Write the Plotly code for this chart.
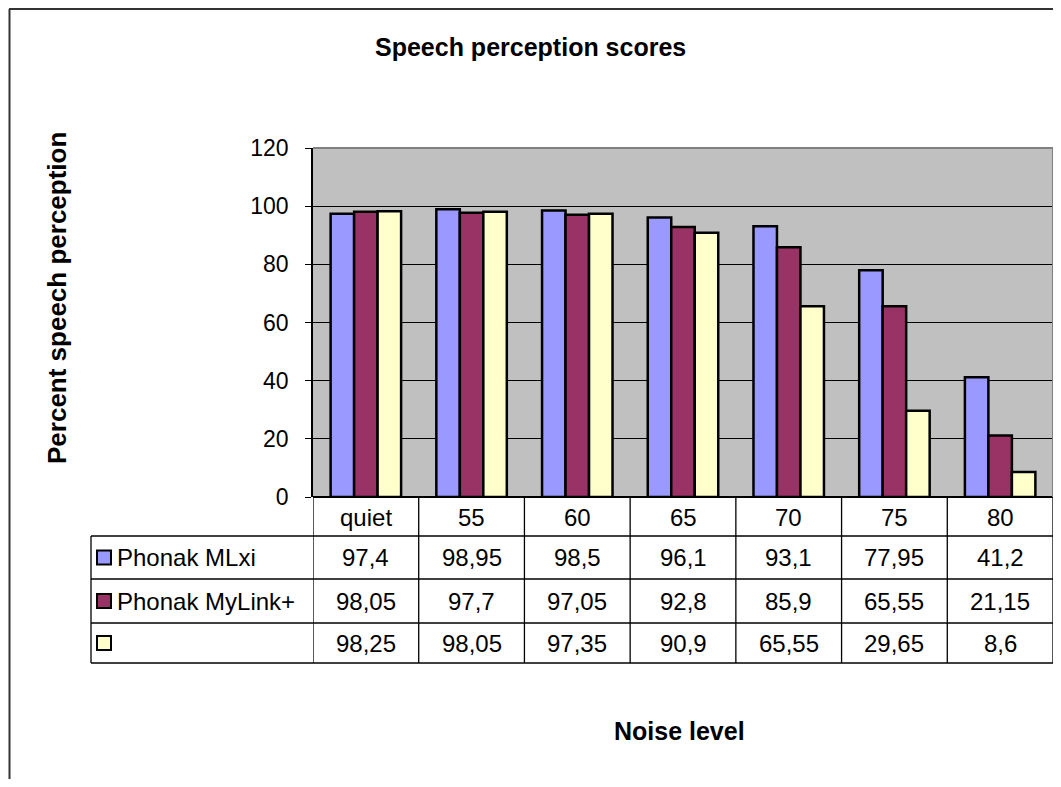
import plotly.graph_objects as go

categories = ["quiet", "55", "60", "65", "70", "75", "80"]
series_names = ["Phonak MLxi", "Phonak MyLink+", ""]
mlxi = [97.4, 98.95, 98.5, 96.1, 93.1, 77.95, 41.2]
mylink = [98.05, 97.7, 97.05, 92.8, 85.9, 65.55, 21.15]
third = [98.25, 98.05, 97.35, 90.9, 65.55, 29.65, 8.6]
colors = ["#9999FF", "#993366", "#FFFFCC"]
y_ticks = [0, 20, 40, 60, 80, 100, 120]

# page body has an 8px margin; work in screen coordinates and convert
OFF = 8
W, H = 1045, 771
PLOT_L, PLOT_T, PLOT_R, PLOT_B = 313, 148, 1053, 497  # screen px
L = PLOT_L - OFF
T = PLOT_T - OFF
R = W - (PLOT_R - OFF)
B = H - (PLOT_B - OFF)
PW = W - L - R
PH = H - T - B
FONT = "Liberation Sans, Arial, sans-serif"


def px(sx):
    return (sx - OFF - L) / PW


def py(sy):
    return (H - B - (sy - OFF)) / PH


series = [mlxi, mylink, third]
xs = list(range(len(categories)))

fig = go.Figure()
for name, vals, col in zip(series_names, series, colors):
    fig.add_trace(go.Bar(
        x=xs, y=vals, name=name,
        marker=dict(color=col, line=dict(color="black", width=2.5)),
        showlegend=False,
    ))

shapes = []
annotations = []

line_k = dict(color="black", width=1.3)

row_lines = [536, 579, 623, 663]
row_centers = [517, 557.5, 601, 643]
left_px = 91

for yl in row_lines:
    shapes.append(dict(type="line", xref="paper", yref="paper",
                       x0=px(left_px), x1=1, y0=py(yl), y1=py(yl), line=line_k))
shapes.append(dict(type="line", xref="paper", yref="paper",
                   x0=px(left_px), x1=px(left_px), y0=py(row_lines[0]), y1=py(row_lines[-1]), line=line_k))
for k in range(len(categories) + 1):
    shapes.append(dict(type="line", xref="x", yref="paper",
                       x0=k - 0.5, x1=k - 0.5, y0=0, y1=py(row_lines[-1]), line=line_k))

tfont = dict(family=FONT, size=24, color="black")

for i, c in enumerate(categories):
    annotations.append(dict(x=i, y=py(row_centers[0]), xref="x", yref="paper",
                            xanchor="center", yanchor="middle",
                            text=c, showarrow=False, font=tfont))

for r, (name, vals, col) in enumerate(zip(series_names, series, colors)):
    yc = row_centers[r + 1]
    for i, v in enumerate(vals):
        annotations.append(dict(x=i, y=py(yc), xref="x", yref="paper",
                                xanchor="center", yanchor="middle",
                                text=str(v).replace(".", ","), showarrow=False, font=tfont))
    shapes.append(dict(type="rect", xref="paper", yref="paper",
                       x0=px(97), x1=px(111), y0=py(yc - 7), y1=py(yc + 7),
                       fillcolor=col, line=dict(color="black", width=2)))
    if name:
        annotations.append(dict(x=px(115), y=py(yc), xref="paper", yref="paper",
                                xanchor="left", yanchor="middle",
                                text=name, showarrow=False, font=tfont))

frame = dict(color="#333333", width=2)
shapes.append(dict(type="line", xref="paper", yref="paper",
                   x0=px(9), x1=px(1070), y0=py(9), y1=py(9), line=frame))
shapes.append(dict(type="line", xref="paper", yref="paper",
                   x0=px(9.5), x1=px(9.5), y0=py(9), y1=py(800), line=frame))

shapes.append(dict(type="line", xref="paper", yref="paper", x0=0, x1=1, y0=1, y1=1,
                   line=dict(color="#808080", width=2)))
shapes.append(dict(type="line", xref="paper", yref="paper", x0=1, x1=1, y0=0, y1=1,
                   line=dict(color="#808080", width=2)))

bfont = dict(family=FONT, size=25, color="black")
annotations.append(dict(x=px(530), y=py(47), xref="paper", yref="paper",
                        xanchor="center", yanchor="middle",
                        text="<b>Speech perception scores</b>", showarrow=False, font=bfont))
annotations.append(dict(x=px(679), y=py(731), xref="paper", yref="paper",
                        xanchor="center", yanchor="middle",
                        text="<b>Noise level</b>", showarrow=False, font=bfont))
annotations.append(dict(x=px(57), y=py(298), xref="paper", yref="paper", textangle=-90,
                        xanchor="center", yanchor="middle",
                        text="<b>Percent speech perception</b>", showarrow=False,
                        font=dict(family=FONT, size=26, color="black")))

fig.update_layout(
    width=W, height=H,
    margin=dict(l=L, r=R, t=T, b=B, pad=0),
    paper_bgcolor="white",
    plot_bgcolor="#C0C0C0",
    barmode="group",
    bargap=1 / 3,
    bargroupgap=0,
    shapes=shapes,
    annotations=annotations,
    showlegend=False,
)
fig.update_xaxes(range=[-0.5, len(categories) - 0.5], showticklabels=False, showgrid=False,
                 zeroline=False, showline=False, ticks="")
fig.update_yaxes(range=[0, 120], tickvals=y_ticks, showgrid=True, gridcolor="black", gridwidth=1,
                 zeroline=True, zerolinecolor="black", zerolinewidth=1.5,
                 showline=True, linecolor="black", linewidth=1.5,
                 ticks="outside", ticklen=6, tickcolor="black",
                 ticklabelstandoff=12,
                 tickfont=dict(family=FONT, size=23, color="black"))

fig.write_html("out.html")
